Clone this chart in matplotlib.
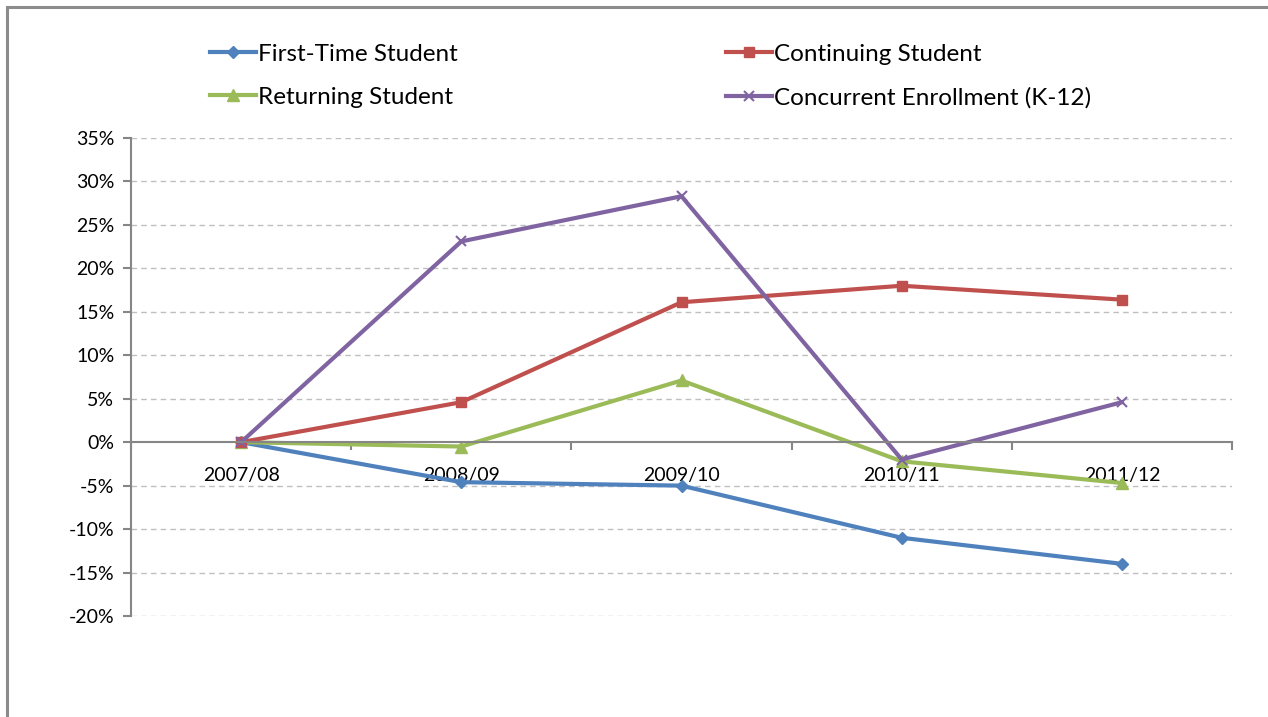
import matplotlib.pyplot as plt
from matplotlib.ticker import FuncFormatter, FixedLocator
from matplotlib.patches import Rectangle

years = ["2007/08", "2008/09", "2009/10", "2010/11", "2011/12"]
first_time = [0.0, -4.6, -5.0, -11.0, -14.0]
continuing = [0.0, 4.6, 16.1, 18.0, 16.4]
returning = [0.0, -0.5, 7.1, -2.2, -4.7]
concurrent = [0.0, 23.1, 28.3, -2.0, 4.6]

plt.rcParams['font.family'] = ['Lato', 'DejaVu Sans']

fig = plt.figure(figsize=(12.68, 7.17), dpi=100)
ax = fig.add_axes([131 / 1268, 1 - 616 / 717, (1232 - 131) / 1268, (616 - 138) / 717])

# chart frame (cropped on right/bottom)
fig.patches.append(Rectangle((7 / 1268, -0.1), 1.2, 1 - 7 / 717 + 0.1, transform=fig.transFigure,
                             fill=False, edgecolor='#8c8c8c', linewidth=2.2))

x = list(range(len(years)))
ax.plot(x, first_time, color='#4F81BD', lw=3, marker='D', ms=6, label='First-Time Student')
ax.plot(x, returning, color='#9BBB59', lw=3, marker='^', ms=8, label='Returning Student')
ax.plot(x, continuing, color='#C0504D', lw=3, marker='s', ms=7, label='Continuing Student')
ax.plot(x, concurrent, color='#8064A2', lw=3, marker='x', ms=7, mew=1.5, label='Concurrent Enrollment (K-12)')

ax.set_xlim(-0.5, 4.5)
ax.set_ylim(-20, 35)
ax.set_yticks(range(-20, 36, 5))
ax.yaxis.set_major_formatter(FuncFormatter(lambda v, p: f"{v:.0f}%"))

for y in range(-20, 36, 5):
    if y != 0:
        ax.axhline(y, color='#bfbfbf', lw=1, ls=(0, (4, 3)), zorder=0)

ax.spines['top'].set_visible(False)
ax.spines['right'].set_visible(False)
ax.spines['left'].set_color('#868686')
ax.spines['left'].set_linewidth(1.5)
ax.spines['bottom'].set_position(('data', 0))
ax.spines['bottom'].set_color('#868686')
ax.spines['bottom'].set_linewidth(1.5)

ax.xaxis.set_major_locator(FixedLocator([-0.5, 0.5, 1.5, 2.5, 3.5, 4.5]))
ax.xaxis.set_major_formatter(FuncFormatter(lambda v, p: ""))
ax.xaxis.set_minor_locator(FixedLocator(x))
ax.set_xticklabels(years, minor=True)
ax.tick_params(axis='x', which='major', length=6, width=1.5, color='#868686', direction='out')
ax.tick_params(axis='x', which='minor', length=0, pad=18, labelsize=14)
ax.tick_params(axis='y', length=6, width=1.5, color='#868686', labelsize=14, pad=6)

h, l = ax.get_legend_handles_labels()
fig.legend(h, l, ncol=2, loc='upper left', bbox_to_anchor=(188 / 1268, 1 - 22 / 717),
           frameon=False, fontsize=17.5, handlelength=1.9, handletextpad=0.1,
           columnspacing=11.0, labelspacing=0.9)

fig.savefig("out.png", dpi=100)
